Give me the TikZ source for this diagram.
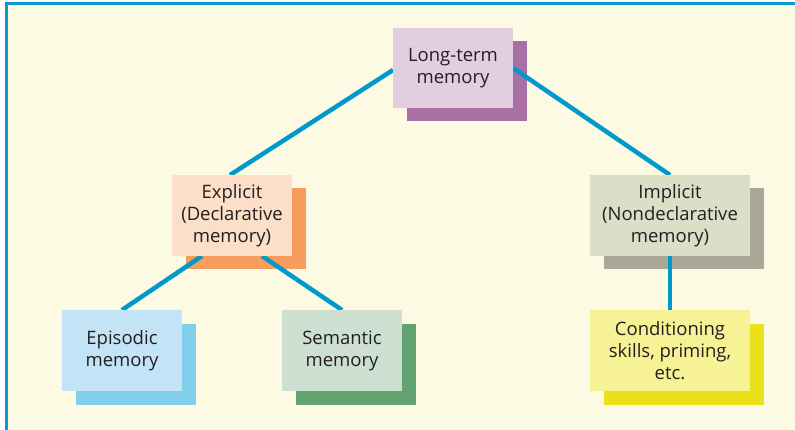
\documentclass[tikz,border=0pt]{standalone}
\usepackage{fontspec}
\setmainfont{Open Sans}
\definecolor{paper}{HTML}{FCFAE2}
\definecolor{rule}{HTML}{0A99CF}
\definecolor{link}{HTML}{0099CC}
\definecolor{ink}{HTML}{231F20}
\definecolor{ltface}{HTML}{E1CFE1}\definecolor{ltback}{HTML}{A870A3}
\definecolor{exface}{HTML}{FCDFC8}\definecolor{exback}{HTML}{F79C5C}
\definecolor{imface}{HTML}{DCDFC8}\definecolor{imback}{HTML}{A9A898}
\definecolor{epface}{HTML}{C3E4F6}\definecolor{epback}{HTML}{82CFEC}
\definecolor{seface}{HTML}{CDDFD1}\definecolor{seback}{HTML}{63A370}
\definecolor{coface}{HTML}{F7F296}\definecolor{coback}{HTML}{EAE118}
\pgfdeclarelayer{backdrop}
\pgfdeclarelayer{shadows}
\pgfdeclarelayer{links}
\pgfsetlayers{backdrop,shadows,links,main}
\tikzset{
  card/.style={rectangle, inner sep=0pt, outer sep=0pt, align=center,
    minimum width=120pt, minimum height=81pt, text=ink,
    font=\fontsize{18.5}{22}\selectfont},
  wide/.style={minimum width=160pt},
  connector/.style={draw=link, line width=4.5pt},
}
% drop shadow behind a card
\newcommand{\cardshadow}[2]{%
  \begin{pgfonlayer}{shadows}
    \fill[#2] ([shift={(13.5,13.5)}]#1.north west) rectangle ([shift={(13.5,13.5)}]#1.south east);
  \end{pgfonlayer}}
\begin{document}
\begin{tikzpicture}[x=1pt,y=-1pt]
  \useasboundingbox (0,0) rectangle (795,430);
  \begin{pgfonlayer}{backdrop}
    \fill[white] (0,0) rectangle (795,430);
    \fill[paper] (5,2) rectangle (795,430);
    \draw[rule, line width=3pt] (5,3.4) -- (795,3.4);
    \draw[rule, line width=3pt] (6.5,2) -- (6.5,430);
  \end{pgfonlayer}

  \node[card, fill=ltface, minimum height=80pt] (lt) at (453,68) {Long-term\\memory};
  \node[card, fill=exface] (ex) at (232,215.5) {Explicit\\(Declarative\\memory)};
  \node[card, wide, fill=imface] (im) at (670,215.5) {Implicit\\(Nondeclarative\\memory)};
  \node[card, fill=epface] (ep) at (122,350.5) {Episodic\\memory};
  \node[card, fill=seface] (se) at (342,350.5) {Semantic\\memory};
  \node[card, wide, fill=coface] (co) at (670,350.5) {Conditioning\\skills, priming,\\etc.};

  \cardshadow{lt}{ltback}
  \cardshadow{ex}{exback}
  \cardshadow{im}{imback}
  \cardshadow{ep}{epback}
  \cardshadow{se}{seback}
  \cardshadow{co}{coback}

  \begin{pgfonlayer}{links}
    \draw[connector] ([yshift=-2]lt.west) -- ([xshift=-2]ex.north);
    \draw[connector] (lt.east) -- (im.north);
    \draw[connector] ([xshift=-30]ex.south) -- (ep.north);
    \draw[connector] ([xshift=30]ex.south) -- (se.north);
    \draw[connector] (im.south) -- (co.north);
  \end{pgfonlayer}
\end{tikzpicture}
\end{document}
